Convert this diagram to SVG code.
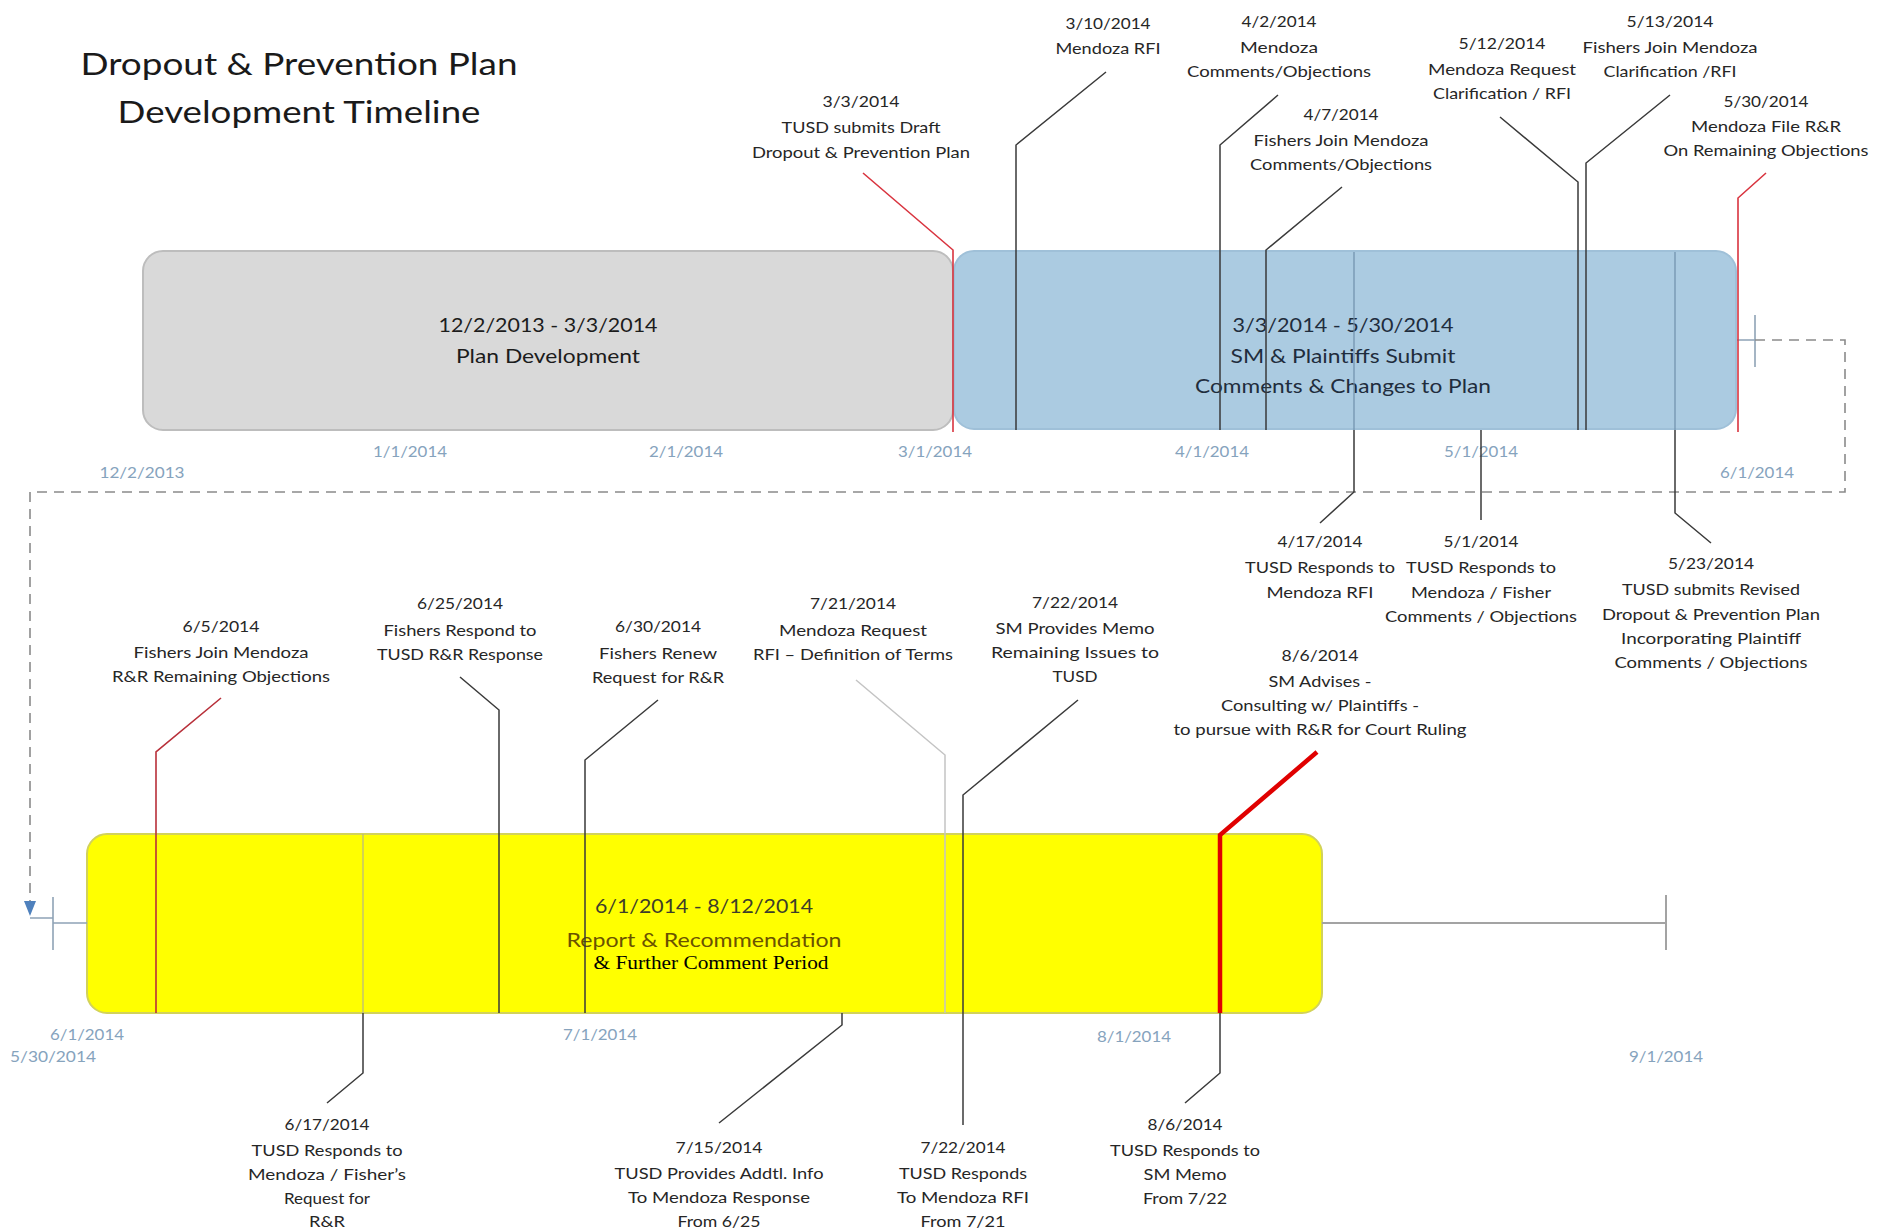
<svg xmlns="http://www.w3.org/2000/svg" width="1877" height="1230" viewBox="0 0 1877 1230">
<style>
text{font-family:Lato,"Liberation Sans",Arial,sans-serif;}
.lbl{font-size:15px;fill:#262626;text-anchor:middle;}
.ax{font-size:16px;fill:#86a3bd;text-anchor:middle;}
.bx{font-size:19px;fill:#1c1c1c;text-anchor:middle;}
.ttl{font-size:31px;fill:#1a1a1a;text-anchor:middle;}
.ln{fill:none;stroke:#3a3a3a;stroke-width:1.5;}
.lt{fill:none;stroke:#6f8fab;stroke-width:1.2;}
.red{fill:none;stroke:#d9343f;stroke-width:1.6;}
.dash{fill:none;stroke:#8a8a8a;stroke-width:1.6;stroke-dasharray:10 7;}
.tick{fill:none;stroke:#8fa3b6;stroke-width:1.6;}
</style>
<rect width="1877" height="1230" fill="#ffffff"/>

<g id="title">
<text class="ttl" x="299" y="75" textLength="437" lengthAdjust="spacingAndGlyphs">Dropout &amp; Prevention Plan</text>
<text class="ttl" x="299" y="123" textLength="363" lengthAdjust="spacingAndGlyphs">Development Timeline</text>
</g>

<g id="box-plan-development">
<rect x="143" y="251" width="810" height="179" rx="20" fill="#d9d9d9" stroke="#bdbdbd" stroke-width="2"/>
<text class="bx" x="548" y="332" textLength="219" lengthAdjust="spacingAndGlyphs">12/2/2013 - 3/3/2014</text>
<text class="bx" x="548" y="363" textLength="184" lengthAdjust="spacingAndGlyphs">Plan Development</text>
</g>

<g id="box-comments">
<rect x="954" y="251" width="782" height="178" rx="20" fill="#abcbe1" stroke="#9fc0d8" stroke-width="2"/>
<text class="bx" x="1343" y="332" style="fill:#1f2d3d" textLength="221" lengthAdjust="spacingAndGlyphs">3/3/2014 - 5/30/2014</text>
<text class="bx" x="1343" y="363" style="fill:#1f2d3d" textLength="225" lengthAdjust="spacingAndGlyphs">SM &amp; Plaintiffs Submit</text>
<text class="bx" x="1343" y="393" style="fill:#1f2d3d" textLength="296" lengthAdjust="spacingAndGlyphs">Comments &amp; Changes to Plan</text>
</g>

<g id="box-report">
<rect x="87" y="834" width="1235" height="179" rx="20" fill="#ffff00" stroke="#d2d25a" stroke-width="2"/>
<text class="bx" x="704" y="913" style="fill:#3d3d2a" textLength="218" lengthAdjust="spacingAndGlyphs">6/1/2014 - 8/12/2014</text>
<text class="bx" x="704" y="947" style="fill:#6a5200" textLength="275" lengthAdjust="spacingAndGlyphs">Report &amp; Recommendation</text>
<text x="711" y="969" style="font-family:'Liberation Serif','Times New Roman',serif;font-size:19px;fill:#000000" text-anchor="middle" textLength="235" lengthAdjust="spacingAndGlyphs">&amp; Further Comment Period</text>
</g>

<g id="axis-labels">
<text class="ax" x="142" y="478" textLength="85" lengthAdjust="spacingAndGlyphs">12/2/2013</text>
<text class="ax" x="410" y="457" textLength="74" lengthAdjust="spacingAndGlyphs">1/1/2014</text>
<text class="ax" x="686" y="457" textLength="74" lengthAdjust="spacingAndGlyphs">2/1/2014</text>
<text class="ax" x="935" y="457" textLength="74" lengthAdjust="spacingAndGlyphs">3/1/2014</text>
<text class="ax" x="1212" y="457" textLength="74" lengthAdjust="spacingAndGlyphs">4/1/2014</text>
<text class="ax" x="1481" y="457" textLength="74" lengthAdjust="spacingAndGlyphs">5/1/2014</text>
<text class="ax" x="1757" y="478" textLength="74" lengthAdjust="spacingAndGlyphs">6/1/2014</text>
<text class="ax" x="87" y="1040" textLength="74" lengthAdjust="spacingAndGlyphs">6/1/2014</text>
<text class="ax" x="53" y="1062" textLength="86" lengthAdjust="spacingAndGlyphs">5/30/2014</text>
<text class="ax" x="600" y="1040" textLength="74" lengthAdjust="spacingAndGlyphs">7/1/2014</text>
<text class="ax" x="1134" y="1042" textLength="74" lengthAdjust="spacingAndGlyphs">8/1/2014</text>
<text class="ax" x="1666" y="1062" textLength="74" lengthAdjust="spacingAndGlyphs">9/1/2014</text>
</g>

<g id="connectors">
<path class="tick" d="M1737,340 H1755 M1755,315 V367"/>
<path class="dash" d="M1755,340 H1845 V492 H30 V906"/>
<path d="M24,901 L36,901 L30,916 Z" fill="#4f81bd"/>
<path class="tick" d="M30,918 H53 M53,897 V950 M53,923 H87"/>
<path fill="none" stroke="#a3a3a3" stroke-width="2" d="M1322,923 H1666 M1666,895 V950"/>
<path class="red" d="M863,173 L953,250 V432"/>
<path class="ln" d="M1106,72 L1016,145 V430"/>
<path class="ln" d="M1278,95 L1220,145 V430"/>
<path class="ln" d="M1342,187 L1266,250 V430"/>
<path class="ln" d="M1500,117 L1578,182 V430"/>
<path class="ln" d="M1670,95 L1586,163 V430"/>
<path class="red" d="M1766,173 L1738,198 V432"/>
<path class="lt" d="M1354,252 V430"/>
<path class="ln" d="M1354,430 V492 L1320,523"/>
<path class="ln" d="M1481,430 V520"/>
<path class="lt" d="M1675,252 V430"/>
<path class="ln" d="M1675,430 V513 L1711,543"/>
<path class="red" d="M221,698 L156,752 V1013" style="stroke:#b8303a"/>
<path class="ln" d="M460,677 L499,710 V1013"/>
<path class="ln" d="M658,700 L585,760 V1013"/>
<path fill="none" stroke="#c4c4c4" stroke-width="1.5" d="M856,680 L945,755 V1013"/>
<path class="ln" d="M1078,700 L963,795 V1013"/>
<path fill="none" stroke="#e00000" stroke-width="4.5" d="M1317,752 L1220,835 V1013"/>
<path fill="none" stroke="#b5b58a" stroke-width="1.2" d="M363,834 V1013"/>
<path class="ln" d="M363,1013 V1073 L327,1103"/>
<path class="ln" d="M842,1013 V1025 L719,1123"/>
<path class="ln" d="M963,1013 V1125"/>
<path class="ln" d="M1220,1013 V1073 L1185,1103"/>
</g>

<g id="m-0303">
<text class="lbl" x="861" y="107" textLength="77" lengthAdjust="spacingAndGlyphs">3/3/2014</text>
<text class="lbl" x="861" y="133" textLength="159" lengthAdjust="spacingAndGlyphs">TUSD submits Draft</text>
<text class="lbl" x="861" y="158" textLength="218" lengthAdjust="spacingAndGlyphs">Dropout &amp; Prevention Plan</text>
</g>
<g id="m-0310">
<text class="lbl" x="1108" y="29" textLength="85" lengthAdjust="spacingAndGlyphs">3/10/2014</text>
<text class="lbl" x="1108" y="54" textLength="105" lengthAdjust="spacingAndGlyphs">Mendoza RFI</text>
</g>
<g id="m-0402">
<text class="lbl" x="1279" y="27" textLength="75" lengthAdjust="spacingAndGlyphs">4/2/2014</text>
<text class="lbl" x="1279" y="53" textLength="78" lengthAdjust="spacingAndGlyphs">Mendoza</text>
<text class="lbl" x="1279" y="77" textLength="184" lengthAdjust="spacingAndGlyphs">Comments/Objections</text>
</g>
<g id="m-0407">
<text class="lbl" x="1341" y="120" textLength="75" lengthAdjust="spacingAndGlyphs">4/7/2014</text>
<text class="lbl" x="1341" y="146" textLength="175" lengthAdjust="spacingAndGlyphs">Fishers Join Mendoza</text>
<text class="lbl" x="1341" y="170" textLength="182" lengthAdjust="spacingAndGlyphs">Comments/Objections</text>
</g>
<g id="m-0512">
<text class="lbl" x="1502" y="49" textLength="87" lengthAdjust="spacingAndGlyphs">5/12/2014</text>
<text class="lbl" x="1502" y="75" textLength="148" lengthAdjust="spacingAndGlyphs">Mendoza Request</text>
<text class="lbl" x="1502" y="99" textLength="138" lengthAdjust="spacingAndGlyphs">Clarification / RFI</text>
</g>
<g id="m-0513">
<text class="lbl" x="1670" y="27" textLength="87" lengthAdjust="spacingAndGlyphs">5/13/2014</text>
<text class="lbl" x="1670" y="53" textLength="175" lengthAdjust="spacingAndGlyphs">Fishers Join Mendoza</text>
<text class="lbl" x="1670" y="77" textLength="133" lengthAdjust="spacingAndGlyphs">Clarification /RFI</text>
</g>
<g id="m-0530">
<text class="lbl" x="1766" y="107" textLength="85" lengthAdjust="spacingAndGlyphs">5/30/2014</text>
<text class="lbl" x="1766" y="132" textLength="150" lengthAdjust="spacingAndGlyphs">Mendoza File R&amp;R</text>
<text class="lbl" x="1766" y="156" textLength="205" lengthAdjust="spacingAndGlyphs">On Remaining Objections</text>
</g>
<g id="m-0417">
<text class="lbl" x="1320" y="547" textLength="85" lengthAdjust="spacingAndGlyphs">4/17/2014</text>
<text class="lbl" x="1320" y="573" textLength="150" lengthAdjust="spacingAndGlyphs">TUSD Responds to</text>
<text class="lbl" x="1320" y="598" textLength="107" lengthAdjust="spacingAndGlyphs">Mendoza RFI</text>
</g>
<g id="m-0501">
<text class="lbl" x="1481" y="547" textLength="75" lengthAdjust="spacingAndGlyphs">5/1/2014</text>
<text class="lbl" x="1481" y="573" textLength="150" lengthAdjust="spacingAndGlyphs">TUSD Responds to</text>
<text class="lbl" x="1481" y="598" textLength="140" lengthAdjust="spacingAndGlyphs">Mendoza / Fisher</text>
<text class="lbl" x="1481" y="622" textLength="192" lengthAdjust="spacingAndGlyphs">Comments / Objections</text>
</g>
<g id="m-0523">
<text class="lbl" x="1711" y="569" textLength="86" lengthAdjust="spacingAndGlyphs">5/23/2014</text>
<text class="lbl" x="1711" y="595" textLength="178" lengthAdjust="spacingAndGlyphs">TUSD submits Revised</text>
<text class="lbl" x="1711" y="620" textLength="218" lengthAdjust="spacingAndGlyphs">Dropout &amp; Prevention Plan</text>
<text class="lbl" x="1711" y="644" textLength="180" lengthAdjust="spacingAndGlyphs">Incorporating Plaintiff</text>
<text class="lbl" x="1711" y="668" textLength="193" lengthAdjust="spacingAndGlyphs">Comments / Objections</text>
</g>
<g id="m-0605">
<text class="lbl" x="221" y="632" textLength="77" lengthAdjust="spacingAndGlyphs">6/5/2014</text>
<text class="lbl" x="221" y="658" textLength="175" lengthAdjust="spacingAndGlyphs">Fishers Join Mendoza</text>
<text class="lbl" x="221" y="682" textLength="218" lengthAdjust="spacingAndGlyphs">R&amp;R Remaining Objections</text>
</g>
<g id="m-0625">
<text class="lbl" x="460" y="609" textLength="86" lengthAdjust="spacingAndGlyphs">6/25/2014</text>
<text class="lbl" x="460" y="636" textLength="153" lengthAdjust="spacingAndGlyphs">Fishers Respond to</text>
<text class="lbl" x="460" y="660" textLength="166" lengthAdjust="spacingAndGlyphs">TUSD R&amp;R Response</text>
</g>
<g id="m-0630">
<text class="lbl" x="658" y="632" textLength="86" lengthAdjust="spacingAndGlyphs">6/30/2014</text>
<text class="lbl" x="658" y="659" textLength="118" lengthAdjust="spacingAndGlyphs">Fishers Renew</text>
<text class="lbl" x="658" y="683" textLength="132" lengthAdjust="spacingAndGlyphs">Request for R&amp;R</text>
</g>
<g id="m-0721">
<text class="lbl" x="853" y="609" textLength="86" lengthAdjust="spacingAndGlyphs">7/21/2014</text>
<text class="lbl" x="853" y="636" textLength="148" lengthAdjust="spacingAndGlyphs">Mendoza Request</text>
<text class="lbl" x="853" y="660" textLength="200" lengthAdjust="spacingAndGlyphs">RFI – Definition of Terms</text>
</g>
<g id="m-0722-memo">
<text class="lbl" x="1075" y="608" textLength="86" lengthAdjust="spacingAndGlyphs">7/22/2014</text>
<text class="lbl" x="1075" y="634" textLength="159" lengthAdjust="spacingAndGlyphs">SM Provides Memo</text>
<text class="lbl" x="1075" y="658" textLength="168" lengthAdjust="spacingAndGlyphs">Remaining Issues to</text>
<text class="lbl" x="1075" y="682" textLength="45" lengthAdjust="spacingAndGlyphs">TUSD</text>
</g>
<g id="m-0806-advises">
<text class="lbl" x="1320" y="661" textLength="77" lengthAdjust="spacingAndGlyphs">8/6/2014</text>
<text class="lbl" x="1320" y="687" textLength="103" lengthAdjust="spacingAndGlyphs">SM Advises -</text>
<text class="lbl" x="1320" y="711" textLength="198" lengthAdjust="spacingAndGlyphs">Consulting w/ Plaintiffs -</text>
<text class="lbl" x="1320" y="735" textLength="293" lengthAdjust="spacingAndGlyphs">to pursue with R&amp;R for Court Ruling</text>
</g>
<g id="m-0617">
<text class="lbl" x="327" y="1130" textLength="85" lengthAdjust="spacingAndGlyphs">6/17/2014</text>
<text class="lbl" x="327" y="1156" textLength="151" lengthAdjust="spacingAndGlyphs">TUSD Responds to</text>
<text class="lbl" x="327" y="1180" textLength="158" lengthAdjust="spacingAndGlyphs">Mendoza / Fisher’s</text>
<text class="lbl" x="327" y="1204" textLength="86" lengthAdjust="spacingAndGlyphs">Request for</text>
<text class="lbl" x="327" y="1227" textLength="36" lengthAdjust="spacingAndGlyphs">R&amp;R</text>
</g>
<g id="m-0715">
<text class="lbl" x="719" y="1153" textLength="87" lengthAdjust="spacingAndGlyphs">7/15/2014</text>
<text class="lbl" x="719" y="1179" textLength="209" lengthAdjust="spacingAndGlyphs">TUSD Provides Addtl. Info</text>
<text class="lbl" x="719" y="1203" textLength="182" lengthAdjust="spacingAndGlyphs">To Mendoza Response</text>
<text class="lbl" x="719" y="1227" textLength="83" lengthAdjust="spacingAndGlyphs">From 6/25</text>
</g>
<g id="m-0722-resp">
<text class="lbl" x="963" y="1153" textLength="85" lengthAdjust="spacingAndGlyphs">7/22/2014</text>
<text class="lbl" x="963" y="1179" textLength="128" lengthAdjust="spacingAndGlyphs">TUSD Responds</text>
<text class="lbl" x="963" y="1203" textLength="132" lengthAdjust="spacingAndGlyphs">To Mendoza RFI</text>
<text class="lbl" x="963" y="1227" textLength="85" lengthAdjust="spacingAndGlyphs">From 7/21</text>
</g>
<g id="m-0806-resp">
<text class="lbl" x="1185" y="1130" textLength="75" lengthAdjust="spacingAndGlyphs">8/6/2014</text>
<text class="lbl" x="1185" y="1156" textLength="150" lengthAdjust="spacingAndGlyphs">TUSD Responds to</text>
<text class="lbl" x="1185" y="1180" textLength="83" lengthAdjust="spacingAndGlyphs">SM Memo</text>
<text class="lbl" x="1185" y="1204" textLength="84" lengthAdjust="spacingAndGlyphs">From 7/22</text>
</g>
</svg>
